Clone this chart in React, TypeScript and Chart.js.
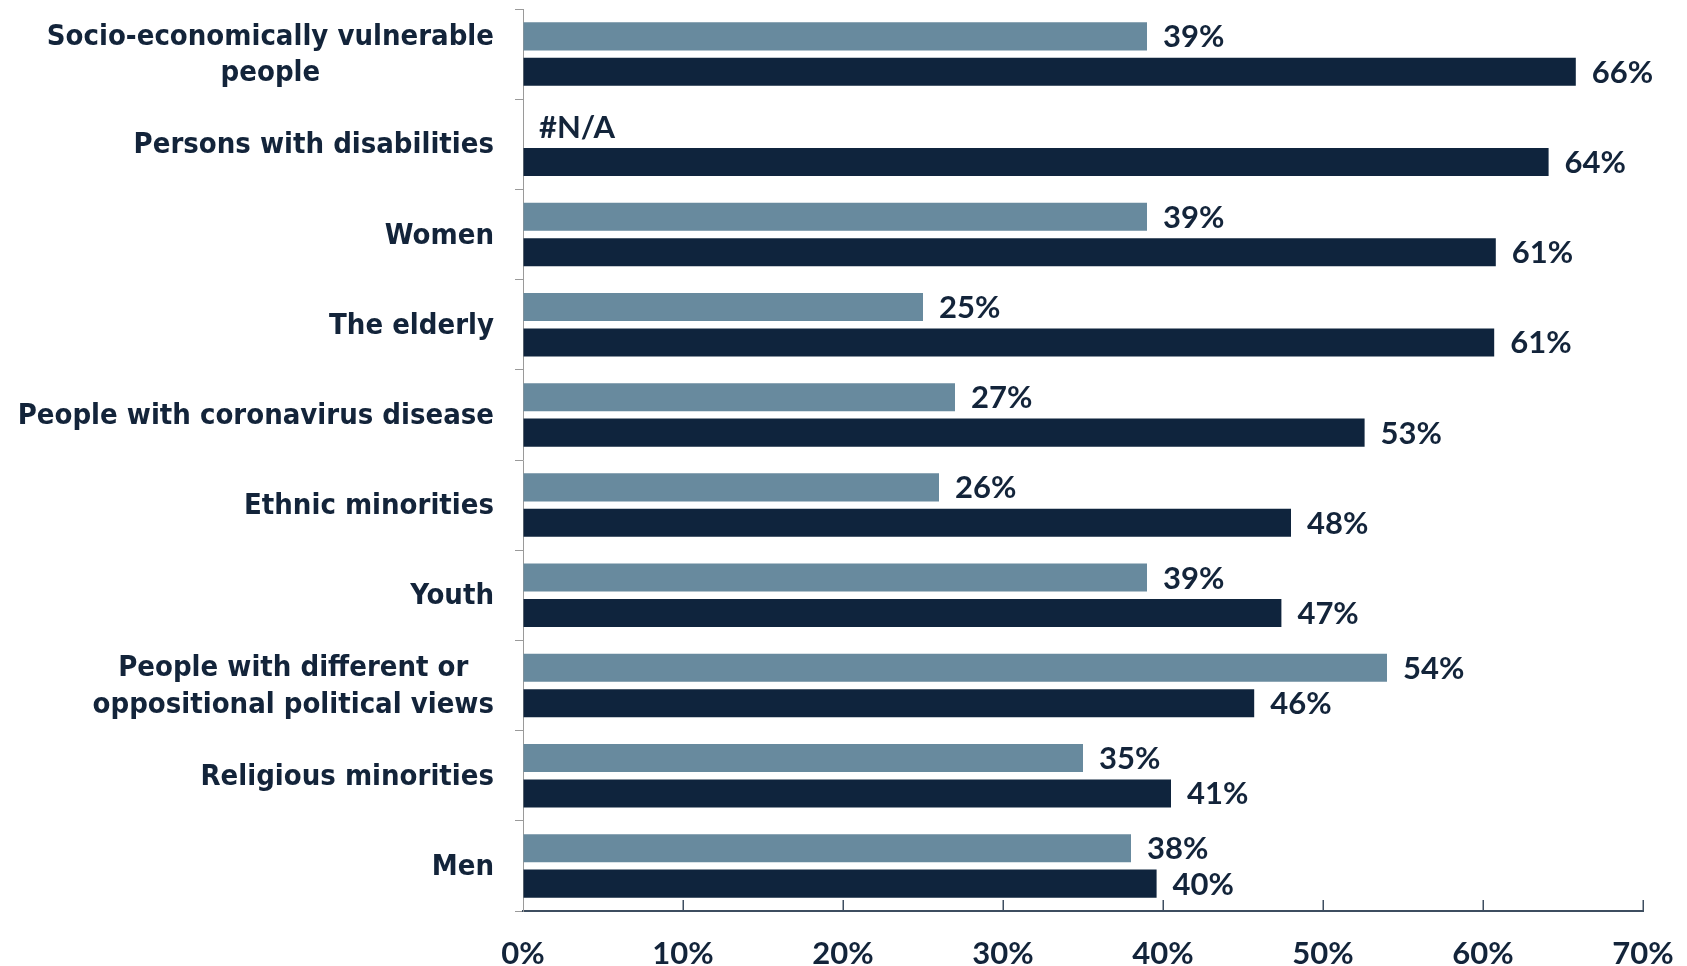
import React, { useEffect, useRef } from "react";
import { Chart, registerables } from "chart.js";

Chart.register(...registerables);

const categories: (string | string[])[] = [
  ["Socio-economically vulnerable", "people"],
  "Persons with disabilities",
  "Women",
  "The elderly",
  "People with coronavirus disease",
  "Ethnic minorities",
  "Youth",
  ["People with different or", "oppositional political views"],
  "Religious minorities",
  "Men",
];

const lightValues: (number | null)[] = [39, null, 39, 25, 27, 26, 39, 54, 35, 38];
const darkValues: number[] = [65.8, 64.1, 60.8, 60.7, 52.6, 48.0, 47.4, 45.7, 40.5, 39.6];
const xTickValues: number[] = [0, 10, 20, 30, 40, 50, 60, 70];
const seriesNames: string[] = ["Series 1", "Series 2"];

const TEXT = "#13243A";
const LIGHT = "#688A9E";
const DARK = "#0F243D";
const NUM_FONT = "Lato";
const CAT_FONT = "'DejaVu Sans Condensed', 'DejaVu Sans'";

const labelPlugin = {
  id: "barLabels",
  afterDatasetsDraw(chart: any) {
    const ctx = chart.ctx;
    const xs = chart.scales.x;
    const x0 = xs.getPixelForValue(0);
    ctx.save();
    ctx.font = `bold 31px ${NUM_FONT}`;
    ctx.fillStyle = TEXT;
    ctx.textBaseline = "middle";
    ctx.textAlign = "left";
    chart.data.datasets.forEach((ds: any, di: number) => {
      const meta = chart.getDatasetMeta(di);
      meta.data.forEach((el: any, i: number) => {
        const v = ds.data[i];
        const text = v == null ? "#N/A" : Math.round(v) + "%";
        const x = v == null ? x0 : el.x;
        ctx.fillText(text, x + 16, el.y + 1);
      });
    });
    ctx.restore();
  },
};

// Category labels: block right-aligned to the axis, lines centred within the block
const categoryLabelPlugin = {
  id: "categoryLabels",
  afterDraw(chart: any) {
    const ctx = chart.ctx;
    const ys = chart.scales.y;
    const rightX = chart.chartArea.left - 29;
    const lineH = 36.6;
    ctx.save();
    ctx.font = `bold 29px ${CAT_FONT}`;
    ctx.fillStyle = TEXT;
    ctx.textBaseline = "middle";
    chart.data.labels.forEach((lab: any, i: number) => {
      const lines: string[] = Array.isArray(lab) ? lab : [lab];
      const cy = ys.getPixelForValue(i) + 1.5;
      const widths = lines.map((l) => ctx.measureText(l).width);
      const block = Math.max(...widths);
      const cx = rightX - block / 2;
      ctx.textAlign = "center";
      lines.forEach((l, j) => {
        const y = cy + (j - (lines.length - 1) / 2) * lineH;
        ctx.fillText(l, cx, y);
      });
    });
    ctx.restore();
  },
};

const innerTicksPlugin = {
  id: "innerTicks",
  afterDraw(chart: any) {
    const ctx = chart.ctx;
    const xs = chart.scales.x;
    const bottom = chart.chartArea.bottom;
    ctx.save();
    ctx.strokeStyle = "#3E4E60";
    ctx.lineWidth = 1.5;
    xTickValues.forEach((v) => {
      if (v === 0) return;
      const px = Math.round(xs.getPixelForValue(v)) + 0.25;
      ctx.beginPath();
      ctx.moveTo(px, bottom);
      ctx.lineTo(px, bottom - 11);
      ctx.stroke();
    });
    ctx.restore();
  },
};

function zeroPad(s: any) {
  s.paddingTop = 0;
  s.paddingBottom = 0;
  s.paddingLeft = 0;
  s.paddingRight = 0;
}

export default function App() {
  const ref = useRef<HTMLCanvasElement | null>(null);

  useEffect(() => {
    if (!ref.current) return;
    const chart = new Chart(ref.current, {
      type: "bar",
      data: {
        labels: categories as any,
        datasets: [
          {
            label: seriesNames[0],
            data: lightValues as any,
            backgroundColor: LIGHT,
            categoryPercentage: 0.786,
            barPercentage: 0.79,
          },
          {
            label: seriesNames[1],
            data: darkValues,
            backgroundColor: DARK,
            categoryPercentage: 0.786,
            barPercentage: 0.79,
          },
        ],
      },
      options: {
        indexAxis: "y",
        responsive: false,
        animation: false,
        devicePixelRatio: 1,
        layout: { padding: { top: 9, right: 44, bottom: 0, left: 0 } },
        plugins: {
          legend: { display: false },
          tooltip: { enabled: false },
        },
        scales: {
          x: {
            type: "linear",
            min: 0,
            max: 70,
            ticks: {
              stepSize: 10,
              callback: (v: any) => v + "%",
              font: { family: NUM_FONT, size: 31, weight: "bold" },
              color: TEXT,
              padding: 24,
              maxRotation: 0,
            },
            grid: { display: true, drawOnChartArea: false, drawTicks: false },
            border: { display: true, color: "#3E4E60", width: 2 },
            afterFit: (s: any) => {
              s.height = 55;
              zeroPad(s);
            },
          },
          y: {
            type: "category",
            ticks: {
              display: false,
              autoSkip: false,
            },
            grid: {
              display: true,
              drawOnChartArea: false,
              drawTicks: true,
              tickLength: 8,
              color: "#9A9A9A",
              offset: true,
            },
            border: { display: true, color: "#9A9A9A", width: 1 },
            afterFit: (s: any) => {
              s.width = 523;
              zeroPad(s);
            },
          },
        },
      } as any,
      plugins: [labelPlugin, categoryLabelPlugin, innerTicksPlugin],
    });
    return () => chart.destroy();
  }, []);

  return (
    <div style={{ position: "absolute", left: 0, top: 0, width: 1687, height: 966, background: "#fff" }}>
      <canvas ref={ref} width={1687} height={966} style={{ display: "block" }} />
    </div>
  );
}
